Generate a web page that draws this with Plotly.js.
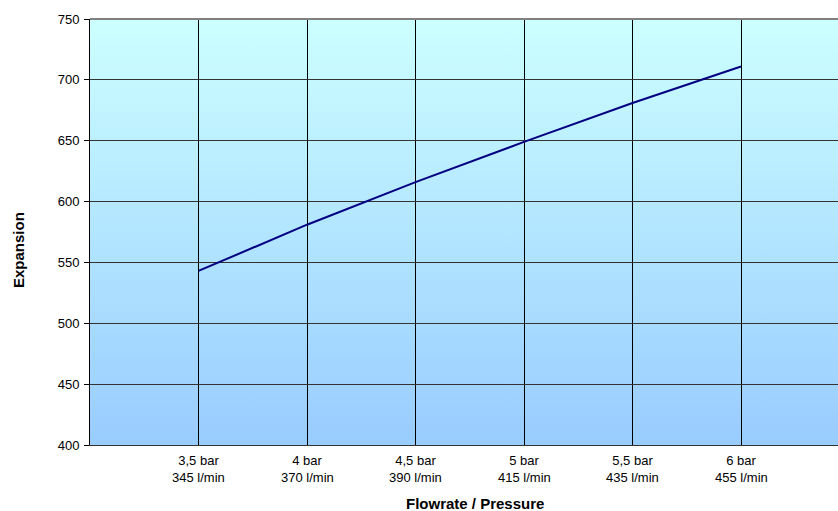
<!DOCTYPE html>
<html>
<head>
<meta charset="utf-8">
<script src="https://cdn.plot.ly/plotly-3.0.1.min.js"></script>
<style>
html,body{margin:0;padding:0;background:#fff;}
#chart{width:838px;height:511px;}
</style>
</head>
<body>
<div id="chart"></div>
<script>
// Data
var pressures = ["3,5 bar", "4 bar", "4,5 bar", "5 bar", "5,5 bar", "6 bar"];
var flowrates = ["345 l/min", "370 l/min", "390 l/min", "415 l/min", "435 l/min", "455 l/min"];
var expansion = [543, 581, 616, 649, 681, 711];
var yTicks = [400, 450, 500, 550, 600, 650, 700, 750];

var idx = pressures.map(function (_, i) { return i; });
var FONT = 'Liberation Sans, Arial, sans-serif';

var grad = 'data:image/svg+xml;charset=utf-8,' + encodeURIComponent(
  '<svg xmlns="http://www.w3.org/2000/svg" width="100" height="100" preserveAspectRatio="none">' +
  '<defs><linearGradient id="g" x1="0" y1="0" x2="0" y2="1">' +
  '<stop offset="0" stop-color="#CCFFFF"/><stop offset="1" stop-color="#99CCFF"/>' +
  '</linearGradient></defs><rect width="100" height="100" fill="url(#g)"/></svg>');

var trace = {
  x: idx,
  y: expansion,
  type: 'scatter',
  mode: 'lines',
  line: { color: '#000080', width: 2 },
  hoverinfo: 'x+y'
};

var annotations = flowrates.map(function (f, i) {
  return {
    x: idx[i], xref: 'x', y: -(477.5 - 445) / 426, yref: 'paper',
    text: f, showarrow: false, xanchor: 'center', yanchor: 'middle',
    font: { family: FONT, size: 13, color: '#000' }
  };
});
annotations.push({
  x: (475 - 90) / 748, xref: 'paper', y: -(504 - 445) / 426, yref: 'paper',
  text: '<b>Flowrate / Pressure</b>', showarrow: false,
  xanchor: 'center', yanchor: 'middle',
  font: { family: FONT, size: 15, color: '#000' }
});
annotations.push({
  x: -(90 - 18) / 748, xref: 'paper', y: 1 - (250 - 19) / 426, yref: 'paper',
  text: '<b>Expansion</b>', showarrow: false, textangle: -90,
  xanchor: 'center', yanchor: 'middle',
  font: { family: FONT, size: 15, color: '#000' }
});

var layout = {
  width: 838,
  height: 511,
  margin: { l: 90, r: 0, t: 19, b: 66, pad: 0 },
  paper_bgcolor: '#ffffff',
  plot_bgcolor: 'rgba(0,0,0,0)',
  showlegend: false,
  font: { family: FONT, size: 13, color: '#000' },
  images: [{
    source: grad, xref: 'paper', yref: 'paper', x: 0, y: 1,
    sizex: 1, sizey: 1, sizing: 'stretch', xanchor: 'left', yanchor: 'top',
    layer: 'below'
  }],
  xaxis: {
    range: [-1, 5.894],
    tickmode: 'array',
    tickvals: idx,
    ticktext: pressures,
    ticks: '',
    ticklabelstandoff: 3,
    showgrid: true,
    gridcolor: '#000000',
    gridwidth: 1,
    zeroline: false,
    showline: true,
    linecolor: '#333333',
    linewidth: 1,
    tickfont: { size: 13, color: '#000' },
    fixedrange: true
  },
  yaxis: {
    range: [400, 750],
    tickmode: 'array',
    tickvals: yTicks,
    ticks: 'outside',
    ticklen: 5,
    tickcolor: '#000',
    ticklabelstandoff: 2,
    showgrid: true,
    gridcolor: '#333333',
    gridwidth: 1,
    zeroline: false,
    showline: true,
    linecolor: '#000',
    linewidth: 1,
    tickfont: { size: 13, color: '#000' },
    fixedrange: true
  },
  shapes: [{
    type: 'line', xref: 'paper', yref: 'paper', x0: 0, x1: 1, y0: 1, y1: 1,
    line: { color: '#808080', width: 2 }
  }],
  annotations: annotations
};

Plotly.newPlot('chart', [trace], layout, { displayModeBar: false, staticPlot: true });
</script>
</body>
</html>
